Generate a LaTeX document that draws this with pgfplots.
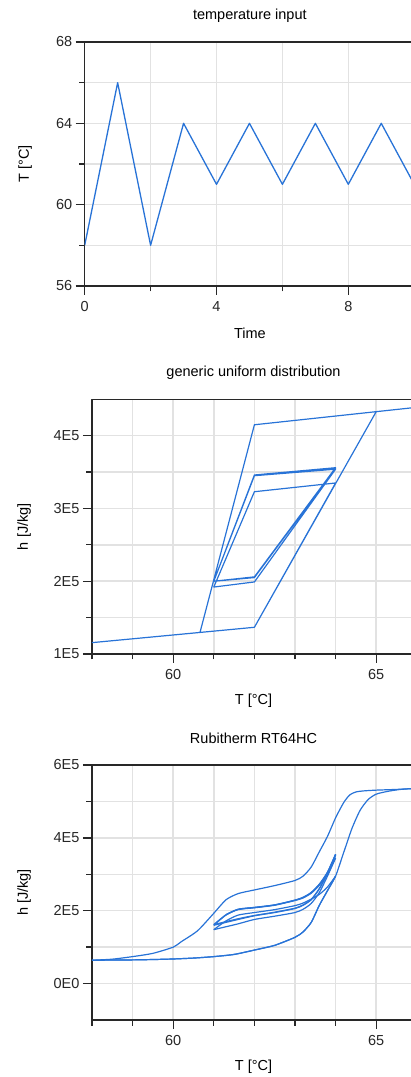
\documentclass[border=0pt]{standalone}
\usepackage{fontspec}
\setmainfont{Liberation Sans}
\usepackage{pgfplots}
\pgfplotsset{compat=1.18}
\definecolor{linec}{RGB}{40,115,215}
\definecolor{gridc}{RGB}{226,226,226}
\definecolor{axc}{RGB}{40,40,40}
\pgfplotsset{
  mystyle/.style={
    scale only axis,
    anchor=south west,
    font=\fontsize{14.5}{17}\selectfont,
    tick align=outside, tick pos=left,
    major tick length=9pt, minor tick length=5.5pt,
    grid=both,
    major grid style={gridc, line width=1.5pt},
    minor grid style={gridc, line width=1.5pt},
    axis line style={axc, line width=1.3pt},
    tick style={axc, line width=1.3pt},
    ticklabel style={text=black!85},
    xticklabel style={yshift=-2.5pt},
    title style={at={(0.5,1)}, anchor=center, yshift=20.7pt},
    xlabel style={at={(axis description cs:0.5,0)}, anchor=center, yshift=-47pt},
    scaled ticks=false,
    line join=round,
  }
}
\begin{document}
\begin{tikzpicture}
\useasboundingbox (0,0) rectangle (411pt,1077pt);
% ---------------- temperature input
\begin{axis}[mystyle, at={(84.7pt,791pt)}, width=330.3pt, height=244pt,
  xmin=0, xmax=10.024, ymin=56, ymax=68,
  xtick={0,4,8}, minor xtick={2,6,10}, xticklabels={0,4,8},
  ytick={56,60,64,68}, minor ytick={58,62,66}, yticklabels={56,60,64,68},
  title={temperature input}, xlabel={Time}, ylabel={T [°C]},
  ylabel style={at={(axis description cs:-0.1807,0.5)}, anchor=center}]
\addplot[linec, line width=1.3pt] coordinates {
(0,58) (1,66) (2,58) (3,64) (4,61) (5,64) (6,61) (7,64) (8,61) (9,64) (10,61)};
\end{axis}
% ---------------- generic uniform distribution
\begin{axis}[mystyle, at={(92pt,423pt)}, width=323pt, height=254.7pt,
  xmin=58, xmax=65.956, ymin=100000, ymax=450000,
  xtick={60,65}, minor xtick={58,59,61,62,63,64}, xticklabels={60,65},
  ytick={100000,200000,300000,400000}, minor ytick={150000,250000,350000},
  yticklabels={1E5,2E5,3E5,4E5},
  title={generic uniform distribution}, xlabel={T [°C]}, ylabel={h [J/kg]},
  ylabel style={at={(axis description cs:-0.2105,0.5)}, anchor=center}]
\addplot[linec, line width=1.2pt] coordinates {
(58,115600) (62,136700) (65,433000) (66,439000)
(62,415000) (60.66,129600) (58,115600)
(62,136700) (64,335000)
(62,323000) (61,192000)
(62,199000) (64,354000)
(62,345000) (61,200000)
(62,205000) (64,355500)
(62,346000) (61,200000)
(62,206000) (64,356000)
(62,346000) (61.3,244000)};
\end{axis}
% ---------------- Rubitherm RT64HC
\begin{axis}[mystyle, at={(92pt,57pt)}, width=323pt, height=255pt,
  xmin=58, xmax=65.956, ymin=-100000, ymax=600000,
  xtick={60,65}, minor xtick={58,59,61,62,63,64}, xticklabels={60,65},
  ytick={0,200000,400000,600000}, minor ytick={100000,300000,500000},
  yticklabels={0E0,2E5,4E5,6E5},
  title={Rubitherm RT64HC}, xlabel={T [°C]}, ylabel={h [J/kg]},
  ylabel style={at={(axis description cs:-0.2105,0.5)}, anchor=center}]
\addplot[linec, line width=1.2pt, smooth, tension=0.4] coordinates {
(58,64000) (58.5,64500) (59,65000) (59.5,66000) (60,67500) (60.5,70000) (61,74000)
(61.5,80000) (62,92000) (62.5,105000) (63,127000) (63.2,142000) (63.4,168000)
(63.6,215000) (63.8,255000) (64,295000) (64.2,360000) (64.4,425000) (64.6,475000)
(64.8,505000) (65,520000) (65.3,528000) (65.6,533000) (66,536000)};
\addplot[linec, line width=1.2pt, smooth, tension=0.4] coordinates {
(66,536000) (65.5,533000) (65,531000) (64.7,529000) (64.5,526000) (64.35,518000)
(64.2,497000) (64,455000) (63.8,404000) (63.6,362000) (63.4,320000) (63.2,295000)
(63,283000) (62.5,269000) (62,257000) (61.6,247000) (61.3,230000) (61,193000)
(60.6,145000) (60.2,115000) (60,100000) (59.5,83000) (59,74000) (58.5,67000) (58,64000)};
\addplot[linec, line width=1.2pt, smooth, tension=0.4] coordinates {
(58,64000) (58.5,64500) (59,65000) (59.5,66000) (60,67500) (60.5,70000) (61,74000)
(61.5,80000) (62,92000) (62.5,105000) (63,127000) (63.2,142000) (63.4,168000)
(63.6,215000) (63.8,255000) (64,295000)};
% cooling 1
\addplot[linec, line width=1.2pt, smooth, tension=0.4] coordinates {
(64,295000) (63.8,265000) (63.6,245000) (63.4,232000) (63.2,221000) (63,214000)
(62.5,203000) (62,195000) (61.6,188000) (61.3,172000) (61,148000)};
% heating 1
\addplot[linec, line width=1.2pt, smooth, tension=0.4] coordinates {
(61,148000) (61.3,156000) (61.6,164000) (62,176000) (62.5,185000) (63,195000)
(63.2,204000) (63.4,220000) (63.6,250000) (63.8,295000) (64,345000)};
% cooling 2
\addplot[linec, line width=1.2pt, smooth, tension=0.4] coordinates {
(64,345000) (63.8,300000) (63.6,270000) (63.4,248000) (63.2,235000) (63,228000)
(62.5,215000) (62,208000) (61.6,203000) (61.3,188000) (61,160000)};
% heating 2
\addplot[linec, line width=1.2pt, smooth, tension=0.4] coordinates {
(61,160000) (61.3,168000) (61.6,176000) (62,186000) (62.5,195000) (63,206000)
(63.2,215000) (63.4,230000) (63.6,260000) (63.8,302000) (64,353000)};
% cooling 3
\addplot[linec, line width=1.2pt, smooth, tension=0.4] coordinates {
(64,353000) (63.8,305000) (63.6,272000) (63.4,250000) (63.2,236000) (63,229000)
(62.5,216000) (62,209000) (61.6,204000) (61.3,189000) (61,162000)};
% heating 3
\addplot[linec, line width=1.2pt, smooth, tension=0.4] coordinates {
(61,162000) (61.3,170000) (61.6,178000) (62,187000) (62.5,196000) (63,207000)
(63.2,216000) (63.4,231000) (63.6,261000) (63.8,303000) (64,355000)};
% cooling 4
\addplot[linec, line width=1.2pt, smooth, tension=0.4] coordinates {
(64,355000) (63.8,306000) (63.6,273000) (63.4,250000) (63.2,237000) (63,229000)
(62.5,216000) (62,209000) (61.6,204000) (61.3,189000)};
\end{axis}
\end{tikzpicture}
\end{document}
